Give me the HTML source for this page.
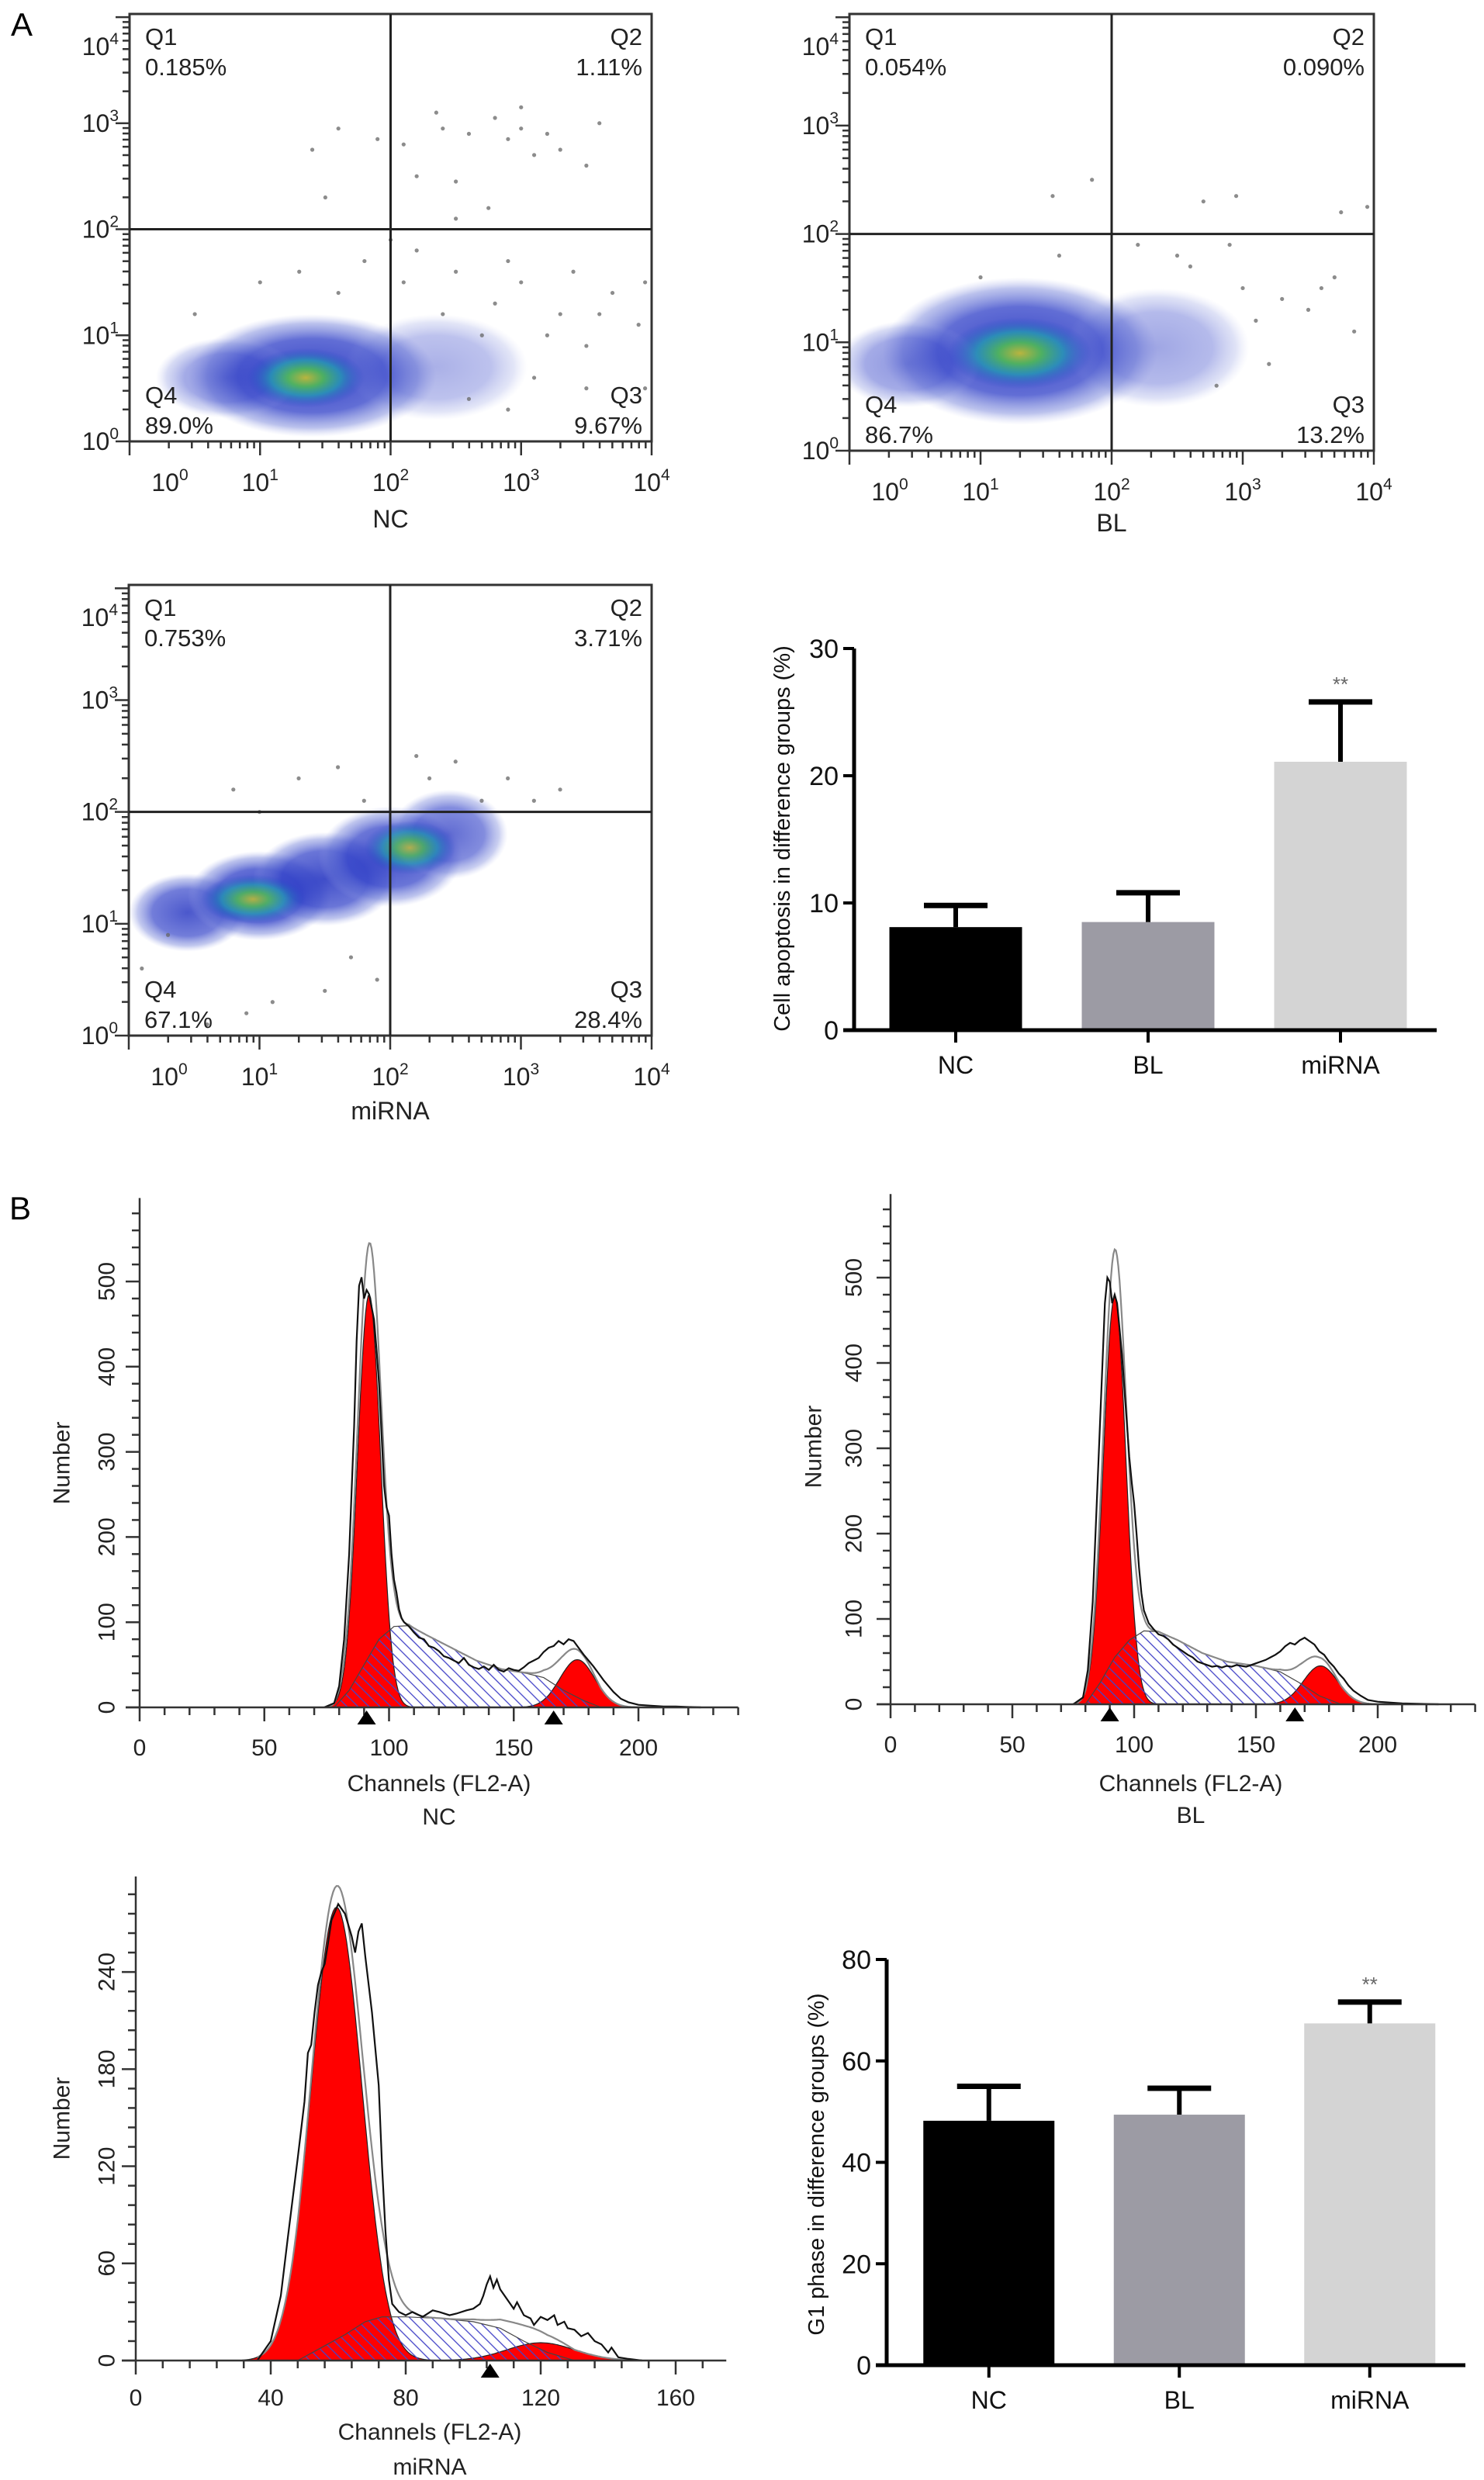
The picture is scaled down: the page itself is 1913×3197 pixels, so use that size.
<!DOCTYPE html>
<html><head><meta charset="utf-8">
<style>
html,body{margin:0;padding:0;background:#fff;}
svg{display:block;font-family:"Liberation Sans",Arial,sans-serif;}
</style></head>
<body>
<svg id="fig" xmlns="http://www.w3.org/2000/svg" width="1913" height="3197" viewBox="0 0 1913 3197">
<defs>
  <pattern id="hatch" patternUnits="userSpaceOnUse" width="10" height="10" patternTransform="rotate(-45)">
    <line x1="0" y1="0" x2="0" y2="10" stroke="#4545c8" stroke-width="2.6"/>
  </pattern>
  <radialGradient id="cloudGrad">
    <stop offset="0" stop-color="#2030c0" stop-opacity="0.95"/>
    <stop offset="0.6" stop-color="#3040c8" stop-opacity="0.8"/>
    <stop offset="0.85" stop-color="#6070d4" stop-opacity="0.45"/>
    <stop offset="1" stop-color="#a0a8e8" stop-opacity="0"/>
  </radialGradient>
  <radialGradient id="coreGrad">
    <stop offset="0" stop-color="#c8c030" stop-opacity="1"/>
    <stop offset="0.3" stop-color="#50c050" stop-opacity="0.95"/>
    <stop offset="0.6" stop-color="#20a0b0" stop-opacity="0.8"/>
    <stop offset="1" stop-color="#2040c8" stop-opacity="0"/>
  </radialGradient>
</defs>
<text x="14" y="46" font-size="42">A</text>
<text x="12" y="1572" font-size="42">B</text>
</svg>
<script>
// ---------- DATA ----------
const quadNames = ['Q1','Q2','Q3','Q4'];
const ncQuadPct = ['0.185%','1.11%','9.67%','89.0%'];
const blQuadPct = ['0.054%','0.090%','13.2%','86.7%'];
const miQuadPct = ['0.753%','3.71%','28.4%','67.1%'];
const gateLog = [2, 2];
// clouds: [logX, logY, rxLog, ryLog, opacity]
const ncClouds = [[1.4,0.62,0.95,0.58,0.95],[2.35,0.7,0.7,0.5,0.4],[0.75,0.6,0.55,0.38,0.55]];
const ncCores = [[1.35,0.6,0.45,0.28,0.9]];
const blClouds = [[1.3,0.92,1.05,0.68,0.95],[2.35,0.95,0.7,0.55,0.45],[0.45,0.8,0.55,0.4,0.55]];
const blCores = [[1.3,0.9,0.55,0.33,0.9]];
const miClouds = [[0.45,1.1,0.45,0.35,0.85],[1.0,1.25,0.55,0.4,0.95],[1.5,1.4,0.55,0.42,0.9],[2.0,1.6,0.55,0.45,0.9],[2.45,1.8,0.45,0.4,0.75]];
const miCores = [[0.95,1.22,0.4,0.22,0.85],[2.15,1.68,0.35,0.24,0.8]];
const ncDots = [[2.35,3.1],[2.4,2.95],[2.6,2.9],[2.8,3.05],[2.9,2.85],[3.0,2.95],[3.2,2.9],[3.3,2.75],[2.1,2.8],[1.9,2.85],[1.6,2.95],[1.4,2.75],[1.5,2.3],[2.5,2.45],[2.75,2.2],[3.6,3.0],[3.5,2.6],[2.2,2.5],[2.5,2.1],[3.0,3.15],[3.1,2.7],[2.1,1.5],[2.4,1.2],[2.8,1.3],[3.0,1.5],[3.3,1.2],[3.5,0.9],[3.7,1.4],[3.9,1.1],[3.1,0.6],[2.9,0.3],[3.5,0.5],[2.5,1.6],[1.8,1.7],[1.6,1.4],[1.0,1.5],[0.5,1.2],[3.95,0.5],[3.95,1.5],[2.2,1.8],[2.7,1.0],[3.2,1.0],[2.6,0.4],[3.4,1.6],[2.0,1.9],[1.3,1.6],[2.9,1.7],[3.6,1.2]];
const blDots = [[1.85,2.5],[1.55,2.35],[2.7,2.3],[2.95,2.35],[3.75,2.2],[3.95,2.25],[1.6,1.8],[2.2,1.9],[2.6,1.7],[3.0,1.5],[3.3,1.4],[3.5,1.3],[3.7,1.6],[3.85,1.1],[1.0,1.6],[2.8,0.6],[3.2,0.8],[2.5,1.8],[3.1,1.2],[3.6,1.5],[2.9,1.9]];
const miDots = [[0.8,2.2],[1.0,2.0],[1.3,2.3],[1.6,2.4],[2.2,2.5],[2.5,2.45],[2.9,2.3],[3.1,2.1],[3.3,2.2],[1.5,0.4],[1.1,0.3],[0.9,0.2],[1.9,0.5],[0.1,0.6],[0.3,0.9],[1.7,0.7],[0.6,0.1],[1.8,2.1],[2.7,2.1],[2.3,2.3]];

const apopCats = ['NC','BL','miRNA'];
const apopMean = [8.1, 8.5, 21.1];
const apopErr = [1.7, 2.3, 4.7];
const apopTicks = [0, 10, 20, 30];
const g1Cats = ['NC','BL','miRNA'];
const g1Mean = [48.2, 49.4, 67.4];
const g1Err = [6.8, 5.2, 4.2];
const g1Ticks = [0, 20, 40, 60, 80];
const barColors = ['#000000','#9c9ba4','#d4d4d4'];

// histogram fit components: [mean, sd, height]
const ncG1 = [92, 4.6, 485];
const ncG2 = [175.5, 7, 56];
const ncS = [[78,0],[84,20],[90,50],[96,80],[102,95],[108,96],[115,85],[125,70],[135,55],[145,45],[155,40],[162,35],[170,20],[178,8],[185,0]];
const ncRaw = [[74,0],[78,5],[80,25],[82,80],[84,180],[86,330],[87,430],[88,495],[89,505],[90,480],[91,490],[92,485],[93,470],[94,455],[95,420],[96,380],[97,320],[98,260],[99,235],[100,225],[101,180],[102,150],[103,135],[104,115],[105,105],[106,100],[108,95],[110,88],[112,82],[114,80],[116,72],[118,70],[120,66],[122,60],[124,58],[126,55],[128,52],[130,58],[132,50],[134,47],[136,45],[138,48],[140,44],[142,50],[144,44],[146,42],[148,46],[150,44],[152,43],[154,47],[156,52],[158,55],[160,58],[162,65],[164,70],[166,72],[168,78],[170,74],[172,80],[174,78],[176,70],[178,62],[180,55],[182,48],[184,40],[186,32],[188,25],[190,18],[193,10],[196,6],[200,3],[205,2],[210,1],[215,1],[225,0]];
const ncMarks = [91, 166];
const blG1 = [92, 4.6, 478];
const blG2 = [176.5, 7, 45];
const blS = [[80,0],[86,25],[92,55],[98,75],[104,86],[110,85],[118,75],[128,60],[138,50],[150,45],[160,38],[168,25],[176,10],[185,0]];
const blRaw = [[75,0],[79,8],[81,40],[83,120],[85,260],[87,400],[88,470],[89,500],[90,495],[91,470],[92,480],[93,470],[94,440],[95,410],[96,370],[97,330],[98,290],[99,260],[100,235],[101,200],[102,160],[103,130],[104,110],[106,95],[108,88],[110,82],[112,80],[114,76],[116,70],[118,66],[120,62],[122,58],[124,55],[126,50],[128,48],[130,46],[132,44],[134,45],[136,43],[138,45],[140,44],[142,46],[144,45],[146,44],[148,46],[150,48],[152,50],[154,52],[156,55],[158,58],[160,62],[162,68],[164,72],[166,70],[168,75],[170,78],[172,74],[174,70],[176,62],[178,58],[180,50],[182,44],[184,36],[186,30],[188,22],[190,16],[193,10],[196,5],[200,3],[210,1],[225,0]];
const blMarks = [90, 166];
const miG1 = [59.5, 7.5, 280];
const miG2 = [120, 10, 11];
const miS = [[48,0],[55,8],[62,16],[68,24],[73,27],[80,27],[90,26],[100,24],[108,20],[115,12],[122,5],[130,0]];
const miRaw = [[36,0],[40,12],[43,40],[45,75],[48,125],[50,160],[51,190],[52,195],[53,215],[54,232],[55,240],[56,245],[57,258],[58,272],[60,282],[62,276],[64,262],[65,252],[66,265],[67,270],[68,250],[70,215],[72,170],[73,120],[74,80],[75,50],[76,35],[78,30],[80,28],[82,30],[85,27],[88,31],[90,30],[93,28],[95,29],[98,31],[100,32],[102,35],[103,40],[104,47],[105,52],[106,45],[107,50],[108,44],[110,38],[112,32],[113,36],[115,28],[117,26],[118,22],[120,27],[122,25],[124,28],[125,22],[127,24],[128,20],[130,19],[132,15],[134,17],[136,12],[138,10],[140,5],[141,8],[143,2],[146,1],[150,0]];
const miMarks = [105];

// ---------- HELPERS ----------
const NS = 'http://www.w3.org/2000/svg';
const svg = document.getElementById('fig');
function mk(tag, attrs, parent){ const e = document.createElementNS(NS, tag); for (const k in attrs) e.setAttribute(k, attrs[k]); (parent||svg).appendChild(e); return e; }
function txt(s, attrs, parent){ const e = mk('text', attrs, parent); e.textContent = s; return e; }

// ---------- SCATTER ----------
function drawScatter(L, pct, title, clouds, cores, dots, key){
  const g = mk('g', {});
  
  
  const W = L.right - L.left, H = L.bottom - L.top;
  const sx = v => L.left + v / 4 * W;
  const sy = v => L.bottom - v / 4.03 * H;
  const clipId = key + '-clip';
  const cp = mk('clipPath', {id: clipId}, g);
  mk('rect', {x: L.left, y: L.top, width: W, height: H}, cp);
  const inner = mk('g', {'clip-path': 'url(#' + clipId + ')'}, g);
  clouds.forEach(c => {
    const e = mk('ellipse', {cx: sx(c[0]), cy: sy(c[1]), rx: c[2]/4*W, ry: c[3]/4.03*H, fill: 'url(#cloudGrad)', opacity: c[4]}, inner);
    
    
  });
  cores.forEach(c => {
    const e = mk('ellipse', {cx: sx(c[0]), cy: sy(c[1]), rx: c[2]/4*W, ry: c[3]/4.03*H, fill: 'url(#coreGrad)', opacity: c[4]}, inner);
    
    
  });
  dots.forEach(d => {
    const e = mk('circle', {cx: sx(d[0]), cy: sy(d[1]), r: 2.6, fill: '#666', opacity: 0.75}, inner);
    
    
  });
  const box = mk('rect', {x: L.left, y: L.top, width: W, height: H, fill: 'none', stroke: '#333', 'stroke-width': 3}, g);
  
  
  const gv = mk('line', {x1: sx(gateLog[0]), x2: sx(gateLog[0]), y1: L.top, y2: L.bottom, stroke: '#222', 'stroke-width': 3}, g);
  
  
  const gh = mk('line', {x1: L.left, x2: L.right, y1: sy(gateLog[1]), y2: sy(gateLog[1]), stroke: '#222', 'stroke-width': 3}, g);
  
  
  for (let d = 0; d < 5; d++) for (let k = 1; k <= 9; k++) {
    const v = d + Math.log10(k);
    const len = k === 1 ? 18 : 9;
    if (v <= 4.03) {
      const t = mk('line', {x1: L.left - len, x2: L.left, y1: sy(v), y2: sy(v), stroke: '#333', 'stroke-width': 2.5}, g);
      
      
    }
    if (v <= 4) {
      const t = mk('line', {x1: sx(v), x2: sx(v), y1: L.bottom, y2: L.bottom + len, stroke: '#333', 'stroke-width': 2.5}, g);
      
      
    }
  }
  for (let n = 0; n <= 4; n++) {
    const yl = txt('10', {x: L.left - 14, y: Math.max(sy(n), L.top + 42) + 11, 'font-size': 32, 'text-anchor': 'end', fill: '#222'}, g);
    const s1 = mk('tspan', {dy: -14, 'font-size': 21}, yl); s1.textContent = String(n);
    
    
    const xl = txt('10', {x: Math.min(Math.max(sx(n), L.left + 52), L.right), y: L.bottom + 64, 'font-size': 32, 'text-anchor': 'middle', fill: '#222'}, g);
    const s2 = mk('tspan', {dy: -14, 'font-size': 21}, xl); s2.textContent = String(n);
    
    
  }
  const pos = [
    {x: L.left + 20, y: L.top + 40, a: 'start'},
    {x: L.right - 12, y: L.top + 40, a: 'end'},
    {x: L.right - 12, y: L.bottom - 49, a: 'end'},
    {x: L.left + 20, y: L.bottom - 49, a: 'start'}
  ];
  for (let i = 0; i < 4; i++) {
    const q = txt(quadNames[i], {x: pos[i].x, y: pos[i].y, 'font-size': 31, 'text-anchor': pos[i].a, fill: '#222'}, g);
    
    
    const p = txt(pct[i], {x: pos[i].x, y: pos[i].y + 39, 'font-size': 31, 'text-anchor': pos[i].a, fill: '#222'}, g);
    
    
  }
  const tt = txt(title, {x: sx(gateLog[0]), y: L.titleY, 'font-size': 32, 'text-anchor': 'middle', fill: '#222'}, g);
  
  
}

drawScatter({left:167,right:840,top:18,bottom:569,titleY:680}, ncQuadPct, 'NC', ncClouds, ncCores, ncDots, 'nc');
drawScatter({left:1095,right:1771,top:18,bottom:581,titleY:685}, blQuadPct, 'BL', blClouds, blCores, blDots, 'bl');
drawScatter({left:166,right:840,top:754,bottom:1335,titleY:1443}, miQuadPct, 'miRNA', miClouds, miCores, miDots, 'mirna');

// ---------- BARS ----------
function drawBars(L, cats, means, errs, ticks, title, key){
  const g = mk('g', {});
  
  
  const sy = v => L.y0 - v / L.vmax * (L.y0 - L.yTop);
  const cx = i => L.bandLeft + L.step * (i + 0.5);
  means.forEach((m, i) => {
    const b = mk('rect', {x: cx(i) - L.barW/2, y: sy(m), width: L.barW, height: L.y0 - sy(m), fill: barColors[i]}, g);
    
    
    const el = mk('line', {x1: cx(i), x2: cx(i), y1: sy(m), y2: sy(m + errs[i]), stroke: '#000', 'stroke-width': 6}, g);
    
    
    const ec = mk('line', {x1: cx(i) - 41, x2: cx(i) + 41, y1: sy(m + errs[i]), y2: sy(m + errs[i]), stroke: '#000', 'stroke-width': 7}, g);
    
    
    const xt = mk('line', {x1: cx(i), x2: cx(i), y1: L.y0, y2: L.y0 + 16, stroke: '#000', 'stroke-width': 4}, g);
    
    
    const xl = txt(cats[i], {x: cx(i), y: L.y0 + 56, 'font-size': 32, 'text-anchor': 'middle', fill: '#111'}, g);
    
    
    if (i === means.length - 1) {
      const s = txt('**', {x: cx(i), y: sy(m + errs[i]) - 14, 'font-size': 26, 'text-anchor': 'middle', fill: '#666'}, g);
      
      
    }
  });
  const ya = mk('line', {x1: L.axisX, x2: L.axisX, y1: L.yTop, y2: L.y0 + 2, stroke: '#000', 'stroke-width': 5}, g);
  
  
  const xa = mk('line', {x1: L.axisX - 14, x2: L.right, y1: L.y0, y2: L.y0, stroke: '#000', 'stroke-width': 5}, g);
  
  
  ticks.forEach(t => {
    const tk = mk('line', {x1: L.axisX - 14, x2: L.axisX, y1: sy(t), y2: sy(t), stroke: '#000', 'stroke-width': 4}, g);
    
    
    const tl = txt(String(t), {x: L.axisX - 20, y: sy(t) + 12, 'font-size': 34, 'text-anchor': 'end', fill: '#111'}, g);
    
    
  });
  const yt = txt(title, {x: L.titleX, y: L.titleY, 'font-size': 29, 'text-anchor': 'middle', fill: '#111', transform: 'rotate(-90 ' + L.titleX + ' ' + L.titleY + ')'}, g);
  
  
}
drawBars({axisX:1101,right:1852,y0:1328,yTop:836,vmax:30,bandLeft:1108,step:248,barW:171,titleX:1018,titleY:1081}, apopCats, apopMean, apopErr, apopTicks, 'Cell apoptosis in difference groups (%)', 'apoptosis');
drawBars({axisX:1143,right:1889,y0:3049,yTop:2526,vmax:80,bandLeft:1152,step:245.5,barW:169,titleX:1062,titleY:2790}, g1Cats, g1Mean, g1Err, g1Ticks, 'G1 phase in difference groups (%)', 'g1-phase');

// ---------- HISTOGRAMS ----------
function gauss(p, c){ return p[2] * Math.exp(-0.5 * Math.pow((c - p[0]) / p[1], 2)); }
function interp(pts, c){
  if (c <= pts[0][0] || c >= pts[pts.length-1][0]) return 0;
  for (let i = 1; i < pts.length; i++) if (c <= pts[i][0]) {
    const a = pts[i-1], b = pts[i];
    return a[1] + (b[1] - a[1]) * (c - a[0]) / (b[0] - a[0]);
  }
  return 0;
}
function drawHist(L, g1, g2, S, raw, marks, key, subLabel){
  const g = mk('g', {});
  
  
  const px = c => L.x0 + c * L.ppc;
  const py = v => L.y0 - v * L.ppu;
  function gaussPath(p){
    let d = 'M' + px(p[0] - 4*p[1]) + ' ' + py(0);
    for (let c = p[0] - 4*p[1]; c <= p[0] + 4*p[1]; c += 0.5) d += ' L' + px(c).toFixed(1) + ' ' + py(gauss(p, c)).toFixed(1);
    return d + ' L' + px(p[0] + 4*p[1]) + ' ' + py(0) + ' Z';
  }
  const r1 = mk('path', {d: gaussPath(g1), fill: '#ff0000', stroke: '#222', 'stroke-width': 1.2}, g);
  
  
  const r2 = mk('path', {d: gaussPath(g2), fill: '#ff0000', stroke: '#222', 'stroke-width': 1.2}, g);
  
  
  let sd = 'M' + px(S[0][0]) + ' ' + py(0);
  S.forEach(p => { sd += ' L' + px(p[0]).toFixed(1) + ' ' + py(p[1]).toFixed(1); });
  sd += ' Z';
  const sp = mk('path', {d: sd, fill: 'url(#hatch)', stroke: '#444', 'stroke-width': 1.2}, g);
  
  
  const lo = raw[0][0], hi = raw[raw.length-1][0];
  let ed = '';
  for (let c = lo; c <= hi; c += 0.5) {
    const v = gauss(g1, c) + gauss(g2, c) + interp(S, c);
    ed += (ed ? ' L' : 'M') + px(c).toFixed(1) + ' ' + py(v).toFixed(1);
  }
  const env = mk('path', {d: ed, fill: 'none', stroke: '#888', 'stroke-width': 2.2}, g);
  
  
  let rd = '';
  raw.forEach(p => { rd += (rd ? ' L' : 'M') + px(p[0]).toFixed(1) + ' ' + py(p[1]).toFixed(1); });
  const rl = mk('path', {d: rd, fill: 'none', stroke: '#111', 'stroke-width': 2.2}, g);
  
  
  const ya = mk('line', {x1: L.x0, x2: L.x0, y1: py(L.ymax), y2: L.y0, stroke: '#333', 'stroke-width': 2.5}, g);
  
  
  const xa = mk('line', {x1: L.x0 - 18, x2: px(L.xmax), y1: L.y0, y2: L.y0, stroke: '#333', 'stroke-width': 2.5}, g);
  
  
  for (let v = 0; v <= L.ymax; v += L.yMinor) {
    const major = v % L.yMajor === 0;
    const t = mk('line', {x1: L.x0 - (major ? 18 : 10), x2: L.x0, y1: py(v), y2: py(v), stroke: '#333', 'stroke-width': 2.5}, g);
    
    
    if (major) {
      const tl = txt(String(v), {x: L.tickLabelX, y: py(v), 'font-size': 30, 'text-anchor': 'middle', 'dominant-baseline': 'central', fill: '#222', transform: 'rotate(-90 ' + L.tickLabelX + ' ' + py(v) + ')'}, g);
      
      
    }
  }
  for (let c = 0; c <= L.xmax; c += L.xMinor) {
    const major = c % L.xMajor === 0;
    const t = mk('line', {x1: px(c), x2: px(c), y1: L.y0, y2: L.y0 + (major ? 18 : 10), stroke: '#333', 'stroke-width': 2.5}, g);
    
    
    if (major) {
      const tl = txt(String(c), {x: px(c), y: L.y0 + L.xlOff, 'font-size': 30, 'text-anchor': 'middle', fill: '#222'}, g);
      
      
    }
  }
  marks.forEach(m => {
    const tri = mk('polygon', {points: (px(m)-12) + ',' + (L.y0+22) + ' ' + (px(m)+12) + ',' + (L.y0+22) + ' ' + px(m) + ',' + (L.y0+4), fill: '#000'}, g);
    
    
  });
  const nt = txt('Number', {x: L.numX, y: L.numY, 'font-size': 30, 'text-anchor': 'middle', 'dominant-baseline': 'central', fill: '#222', transform: 'rotate(-90 ' + L.numX + ' ' + L.numY + ')'}, g);
  
  
  const ct = txt('Channels (FL2-A)', {x: L.chX, y: L.chY, 'font-size': 30, 'text-anchor': 'middle', fill: '#222'}, g);
  
  
  const sl = txt(subLabel, {x: L.chX, y: L.subY, 'font-size': 30, 'text-anchor': 'middle', fill: '#222'}, g);
  
  
}
drawHist({x0:180,ppc:3.215,y0:2201,ppu:1.098,xmax:240,ymax:598,yMinor:20,yMajor:100,xMinor:10,xMajor:50,tickLabelX:138,xlOff:62,numX:80,numY:1886,chX:566,chY:2309,subY:2352}, ncG1, ncG2, ncS, ncRaw, ncMarks, 'nc', 'NC');
drawHist({x0:1148,ppc:3.14,y0:2197,ppu:1.1,xmax:240,ymax:598,yMinor:20,yMajor:100,xMinor:10,xMajor:50,tickLabelX:1101,xlOff:62,numX:1049,numY:1865,chX:1535,chY:2309,subY:2350}, blG1, blG2, blS, blRaw, blMarks, 'bl', 'BL');
drawHist({x0:175,ppc:4.35,y0:3043,ppu:2.087,xmax:175,ymax:299,yMinor:12,yMajor:60,xMinor:8,xMajor:40,tickLabelX:138,xlOff:58,numX:80,numY:2731,chX:554,chY:3145,subY:3190}, miG1, miG2, miS, miRaw, miMarks, 'mirna', 'miRNA');
</script>
</body></html>
